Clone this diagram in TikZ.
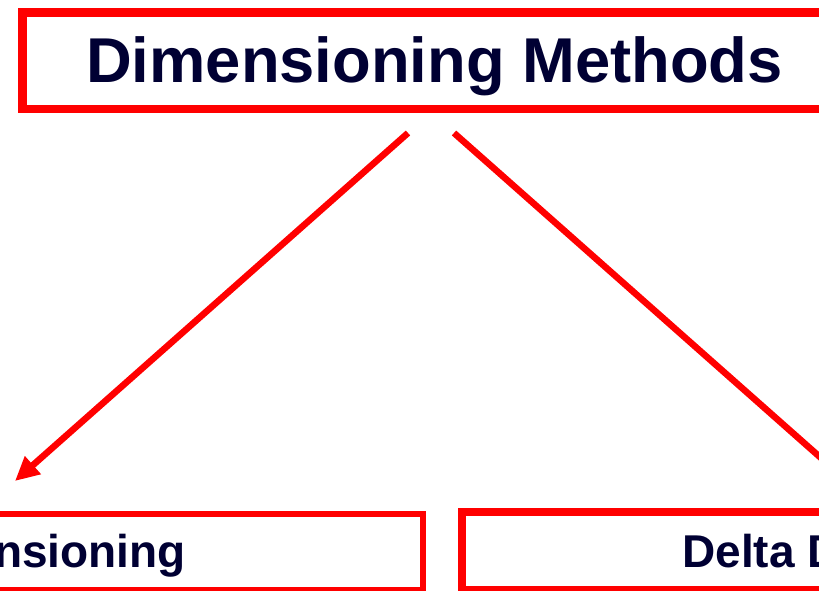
\documentclass[tikz,border=0pt]{standalone}
\usepackage{fontspec}
\setmainfont{Liberation Sans}
\usetikzlibrary{arrows.meta}
\definecolor{boxred}{RGB}{255,0,0}
\definecolor{navy}{RGB}{0,0,51}
\begin{document}
\begin{tikzpicture}[x=0.75pt,y=-0.75pt,
  framebox/.style={draw=boxred,line width=6.4pt},
  titlebox/.style={draw=boxred,line width=6.2pt},
  lbl/.style={text=navy,font=\bfseries,inner sep=0pt},
  conn/.style={draw=boxred,line width=4.9pt,-{Triangle[length=18pt,width=17pt]}}]
\useasboundingbox (0,0) rectangle (819,591);
\clip (0,0) rectangle (819,591);
\fill[white] (0,0) rectangle (819,591);
% boxes
\draw[titlebox] (22.5,12.5) rectangle (860,109);
\draw[framebox,line width=5pt] (-40,514) rectangle (423,590);
\draw[framebox,line width=6pt] (461.5,512.5) rectangle (900,590);
% texts
\node[lbl,font=\bfseries\fontsize{47.5pt}{50pt}\selectfont,anchor=base] (title) at (434.5,83) {Dimensioning Methods};
\node[lbl,font=\bfseries\fontsize{34.5pt}{36pt}\selectfont,anchor=base east] (left) at (186,568) {Dimensioning};
\node[lbl,font=\bfseries\fontsize{34.5pt}{36pt}\selectfont,anchor=base west] (right) at (682,568) {Delta Dimensioning};
% connectors
\coordinate (ls) at (408,133);
\coordinate (lt) at (15,481);
\coordinate (rs) at (454,133);
\coordinate (rt) at (847,481);
\draw[conn] (ls) -- (lt);
\draw[conn] (rs) -- (rt);
\end{tikzpicture}
\end{document}
